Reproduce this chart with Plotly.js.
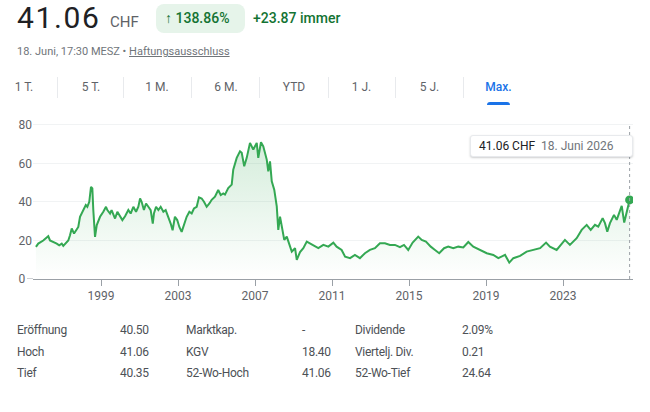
<!DOCTYPE html>
<html><head><meta charset="utf-8">
<script src="https://cdn.plot.ly/plotly-3.0.1.min.js"></script>
<style>
html,body{margin:0;padding:0;background:#fff;width:650px;height:412px;overflow:hidden;font-family:Roboto,"Noto Sans",Arial,sans-serif;}
#chart{position:absolute;left:0;top:0;width:650px;height:412px;}
.t{position:absolute;white-space:nowrap;}
.tab{position:absolute;width:60px;text-align:center;font-size:12px;color:#5f6368;top:79px;height:16px;line-height:16px;}
.sep{position:absolute;top:77px;width:1px;height:21px;background:#e8eaed;}
.st{position:absolute;font-size:12px;letter-spacing:-0.3px;color:#4d5156;height:16px;line-height:16px;white-space:nowrap;}
</style></head><body>
<div id="chart"></div>
<div id="overlay"></div>
<script>
// ---- data ----
const years = [1995.62,1995.74,1996.00,1996.18,1996.26,1996.35,1996.52,1996.70,1996.83,1996.96,
1997.04,1997.22,1997.30,1997.39,1997.48,1997.60,1997.70,1997.82,1997.91,1998.08,
1998.21,1998.29,1998.39,1998.48,1998.55,1998.60,1998.69,1998.78,1998.86,1998.95,
1999.12,1999.26,1999.33,1999.47,1999.55,1999.73,1999.85,1999.99,2000.11,2000.25,
2000.42,2000.54,2000.68,2000.82,2000.94,2001.03,2001.11,2001.23,2001.34,2001.46,
2001.58,2001.69,2001.75,2001.86,2001.98,2002.10,2002.24,2002.36,2002.50,2002.62,
2002.72,2002.84,2002.96,2003.07,2003.19,2003.31,2003.45,2003.59,2003.71,2003.83,
2003.97,2004.09,2004.23,2004.35,2004.49,2004.63,2004.75,2004.92,2005.09,2005.22,
2005.35,2005.44,2005.61,2005.79,2005.87,2006.05,2006.22,2006.31,2006.44,2006.57,
2006.74,2006.91,2007.09,2007.17,2007.31,2007.43,2007.61,2007.69,2007.78,2007.87,
2008.00,2008.13,2008.21,2008.30,2008.42,2008.52,2008.65,2008.77,2008.91,2009.08,
2009.17,2009.34,2009.51,2009.69,2010.03,2010.29,2010.55,2010.81,2011.07,2011.24,
2011.50,2011.68,2011.94,2012.19,2012.45,2012.71,2012.97,2013.23,2013.49,2013.75,
2014.01,2014.27,2014.53,2014.74,2014.96,2015.19,2015.48,2015.66,2015.88,2016.13,
2016.35,2016.57,2016.82,2017.04,2017.30,2017.56,2017.82,2018.08,2018.34,2018.69,
2019.04,2019.38,2019.64,2019.99,2020.21,2020.42,2020.77,2021.11,2021.46,2021.81,
2022.12,2022.32,2022.67,2023.10,2023.36,2023.71,2023.97,2024.23,2024.44,2024.66,
2024.83,2025.06,2025.18,2025.30,2025.44,2025.65,2025.79,2026.05,2026.18,2026.31,
2026.46];
const prices = [16.7,18.4,20.0,21.4,22.2,20.0,19.3,18.4,17.5,18.4,
17.2,19.3,20.0,22.7,26.2,23.6,25.3,27.0,32.3,35.8,
38.4,37.5,40.1,47.9,47.0,35.8,21.9,28.0,29.7,32.3,
34.9,37.5,35.8,34.0,35.8,31.4,34.9,32.3,30.6,32.6,
35.8,34.0,37.5,34.9,37.5,41.8,40.1,35.8,39.2,37.5,
35.8,28.8,34.0,37.5,35.8,37.5,34.9,35.8,32.3,28.8,
25.3,32.3,30.6,27.0,24.5,28.0,32.3,34.9,34.0,36.6,
37.5,42.4,41.8,40.1,37.5,39.2,41.1,42.7,46.2,43.6,
44.4,43.8,47.2,49.0,56.8,62.9,66.3,65.5,58.5,62.9,
70.7,67.2,70.7,62.9,71.0,68.9,62.0,55.9,61.1,50.7,
46.4,37.7,25.5,32.4,24.6,20.3,22.0,18.6,14.2,16.0,
9.9,14.0,16.0,19.4,17.7,16.0,17.7,16.8,18.9,16.8,
15.1,11.6,10.8,12.5,10.8,13.4,15.1,16.0,18.6,18.6,
17.7,17.7,16.5,17.7,15.1,18.9,22.0,20.3,19.4,16.8,
15.1,13.4,16.0,16.8,16.0,16.8,16.4,19.2,16.8,15.1,
13.4,12.5,10.8,12.5,8.5,10.8,12.0,14.2,15.1,16.0,
18.9,16.8,15.1,20.3,17.7,21.2,25.5,28.1,25.5,28.1,
27.2,31.6,29.0,24.6,29.0,33.3,30.7,38.0,29.3,34.2,
41.06];
const xTickYears = [1999,2003,2007,2011,2015,2019,2023];
const yTickValues = [0,20,40,60,80];
const currency = "CHF";
const lastDateLabel = "18. Juni 2026";
const changePct = "138.86%";
const changeAbs = "+23.87";
const changePeriod = "immer";
const subline = "18. Juni, 17:30 MESZ";
const disclaimer = "Haftungsausschluss";
const tabLabels = ["1 T.","5 T.","1 M.","6 M.","YTD","1 J.","5 J.","Max."];
const statLabelsA = ["Eröffnung","Hoch","Tief"];
const statValuesA = ["40.50","41.06","40.35"];
const statLabelsB = ["Marktkap.","KGV","52-Wo-Hoch"];
const statValuesB = ["-","18.40","41.06"];
const statLabelsC = ["Dividende","Viertelj. Div.","52-Wo-Tief"];
const statValuesC = ["2.09%","0.21","24.64"];

// ---- chart ----
const green = '#34a853';
const lastX = years[years.length-1];
const lastY = prices[prices.length-1];
const pxPerYear = 19.25;
const x0 = 1999 + (33-101)/pxPerYear, x1 = 1999 + (633-101)/pxPerYear;

const traces = [
  {x: years, y: prices, type:'scatter', mode:'lines',
   line:{color:green, width:2}, fill:'tozeroy',
   fillgradient:{type:'vertical', start:0, stop:75,
     colorscale:[[0,'rgba(52,168,83,0)'],[1,'rgba(52,168,83,0.22)']]},
   hoverinfo:'skip'},
  {x:[lastX], y:[lastY], type:'scatter', mode:'markers',
   marker:{color:green, size:9}, hoverinfo:'skip'}
];
const layout = {
  width:650, height:412,
  margin:{l:33, r:17, t:123, b:133},
  paper_bgcolor:'#fff', plot_bgcolor:'#fff',
  showlegend:false,
  font:{family:'Roboto, Arial, sans-serif', size:12, color:'#70757a'},
  xaxis:{range:[x0,x1], tickmode:'array', tickvals:xTickYears, ticktext:xTickYears.map(String),
    showgrid:false, zeroline:false, showline:true, linecolor:'#9aa0a6', linewidth:1,
    ticks:'outside', ticklen:6, tickcolor:'#9aa0a6', tickfont:{size:12, color:'#5f6368'}},
  yaxis:{range:[0,81], tickmode:'array', tickvals:yTickValues,
    ticktext:yTickValues.map(v => v===0 ? '0\u2007' : String(v)),
    showgrid:true, gridcolor:'#f1f3f4', zeroline:false, showline:false, ticks:'',
    tickfont:{size:12, color:'#5f6368'}},
  shapes:[
    {type:'line', xref:'x', yref:'paper', x0:lastX, x1:lastX, y0:0, y1:1,
     line:{color:'#9aa0a6', width:1, dash:'dot'}},
    {type:'line', xref:'paper', yref:'y', x0:-6/600, x1:0, y0:0, y1:0,
     line:{color:'#9aa0a6', width:1}}
  ]
};
Plotly.newPlot('chart', traces, layout, {staticPlot:true, displayModeBar:false});

// ---- overlay text ----
const ov = document.getElementById('overlay');
function add(html, style, cls){ const d=document.createElement('div'); d.className=cls||'t'; d.innerHTML=html; Object.assign(d.style, style); ov.appendChild(d); return d; }

add(lastY.toFixed(2), {left:'17px', top:'0px', fontSize:'30px', lineHeight:'35px', letterSpacing:'1.6px', color:'#202124'});
add(currency, {left:'110px', top:'13px', fontSize:'15px', lineHeight:'18px', color:'#5f6368'});
add('', {left:'156px', top:'4px', width:'89px', height:'29px', background:'#e6f4ea', borderRadius:'8px'});
add('\u2191 ' + changePct, {left:'165px', top:'9px', fontSize:'14px', lineHeight:'18px', color:'#137333', fontWeight:'500'});
add(changeAbs + ' ' + changePeriod, {left:'253px', top:'9px', fontSize:'14px', lineHeight:'18px', color:'#137333', fontWeight:'500'});
add(subline + ' \u2022 <span style="text-decoration:underline">' + disclaimer + '</span>',
    {left:'17px', top:'44px', fontSize:'11px', lineHeight:'16px', color:'#70757a'});

const tabCenters = [24,91,157,226,294,361.5,429.5,498.5];
const sepX = [57,123,191,259,328,395,463];
tabLabels.forEach((l,i)=>{
  const d = add(l, {left:(tabCenters[i]-30)+'px'}, 'tab');
  if(i===tabLabels.length-1){ d.style.color='#1a73e8'; d.style.fontWeight='500'; }
});
sepX.forEach(x=>add('', {left:x+'px'}, 'sep'));
add('', {left:'487px', top:'102px', width:'23px', height:'3px', background:'#1a73e8', borderRadius:'3px 3px 0 0'});

// tooltip
add('<span style="color:#202124">' + lastY.toFixed(2) + ' ' + currency + '</span>&nbsp;&nbsp;<span style="color:#70757a">' + lastDateLabel + '</span>',
    {left:'470px', top:'135px', width:'153px', height:'20px', lineHeight:'20px', fontSize:'12px', paddingLeft:'8px',
     background:'#fff', border:'1px solid #e8eaed', borderRadius:'3px', boxShadow:'0 1px 2px rgba(60,64,67,0.25)'});

// stats
const rowCenters = [330, 351.7, 373.3];
const cols = [[statLabelsA,17],[statValuesA,120],[statLabelsB,186],[statValuesB,302],[statLabelsC,355],[statValuesC,462]];
cols.forEach(([arr,x])=>arr.forEach((txt,i)=>add(txt, {left:x+'px', top:(rowCenters[i]-8)+'px'}, 'st')));
</script>
</body></html>
